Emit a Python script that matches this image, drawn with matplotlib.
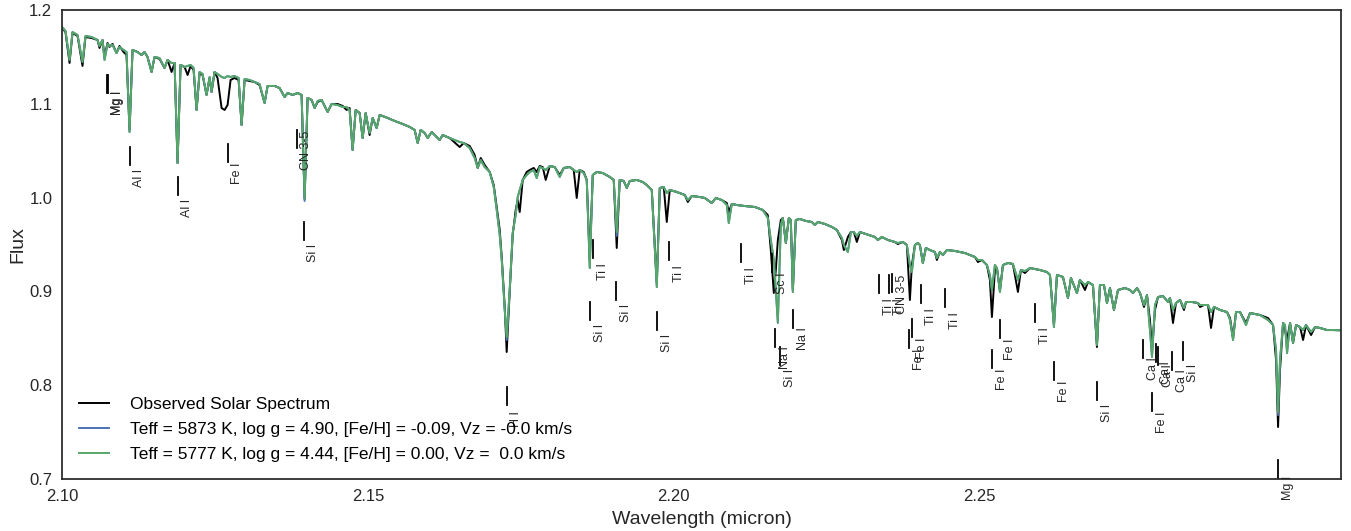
import numpy as np
import matplotlib
matplotlib.use("Agg")
import matplotlib.pyplot as plt
from matplotlib.ticker import FormatStrFormatter

plt.rcParams['font.family'] = ['Liberation Sans', 'DejaVu Sans']

# wavelength grid (micron)
wave = [
    2.10000, 2.10057, 2.10123, 2.10172, 2.10254, 2.10335, 2.10384, 2.10483, 2.10581, 2.10613,
    2.10662, 2.10695, 2.10744, 2.10777, 2.10826, 2.10891, 2.10940, 2.11006, 2.11055, 2.11104,
    2.11153, 2.11235, 2.11300, 2.11349, 2.11398, 2.11464, 2.11513, 2.11595, 2.11676, 2.11726,
    2.11791, 2.11840, 2.11889, 2.11938, 2.12004, 2.12053, 2.12102, 2.12151, 2.12200, 2.12249,
    2.12298, 2.12363, 2.12413, 2.12445, 2.12494, 2.12543, 2.12609, 2.12658, 2.12707, 2.12756,
    2.12821, 2.12887, 2.12936, 2.12985, 2.13067, 2.13149, 2.13230, 2.13312, 2.13361, 2.13476,
    2.13557, 2.13639, 2.13688, 2.13770, 2.13852, 2.13917, 2.13966, 2.14015, 2.14081, 2.14130,
    2.14179, 2.14244, 2.14343, 2.14408, 2.14506, 2.14588, 2.14653, 2.14702, 2.14751, 2.14801,
    2.14866, 2.14915, 2.14964, 2.15029, 2.15079, 2.15144, 2.15193, 2.15324, 2.15438, 2.15569,
    2.15684, 2.15765, 2.15815, 2.15864, 2.15929, 2.15978, 2.16044, 2.16125, 2.16174, 2.16223,
    2.16338, 2.16502, 2.16567, 2.16665, 2.16747, 2.16796, 2.16845, 2.16910, 2.16992, 2.17058,
    2.17107, 2.17156, 2.17189, 2.17238, 2.17270, 2.17319, 2.17368, 2.17417, 2.17450, 2.17483,
    2.17532, 2.17597, 2.17646, 2.17712, 2.17761, 2.17810, 2.17859, 2.17908, 2.17974, 2.18055,
    2.18137, 2.18203, 2.18301, 2.18366, 2.18415, 2.18464, 2.18530, 2.18579, 2.18628, 2.18677,
    2.18742, 2.18840, 2.18955, 2.19020, 2.19069, 2.19118, 2.19184, 2.19233, 2.19282, 2.19397,
    2.19495, 2.19560, 2.19642, 2.19724, 2.19773, 2.19838, 2.19887, 2.19936, 2.20051, 2.20182,
    2.20231, 2.20296, 2.20427, 2.20509, 2.20623, 2.20689, 2.20787, 2.20869, 2.20901, 2.20950,
    2.21032, 2.21163, 2.21327, 2.21457, 2.21539, 2.21588, 2.21637, 2.21670, 2.21703, 2.21752,
    2.21785, 2.21834, 2.21883, 2.21915, 2.21948, 2.21997, 2.22063, 2.22161, 2.22259, 2.22308,
    2.22357, 2.22471, 2.22586, 2.22668, 2.22750, 2.22782, 2.22848, 2.22897, 2.22946, 2.22995,
    2.23044, 2.23142, 2.23289, 2.23338, 2.23404, 2.23502, 2.23616, 2.23665, 2.23747, 2.23813,
    2.23862, 2.23894, 2.23944, 2.23993, 2.24025, 2.24074, 2.24123, 2.24189, 2.24271, 2.24303,
    2.24352, 2.24402, 2.24467, 2.24598, 2.24761, 2.24843, 2.24925, 2.24974, 2.25039, 2.25121,
    2.25170, 2.25203, 2.25252, 2.25285, 2.25334, 2.25383, 2.25465, 2.25546, 2.25628, 2.25677,
    2.25743, 2.25824, 2.25988, 2.26102, 2.26152, 2.26217, 2.26266, 2.26364, 2.26446, 2.26495,
    2.26593, 2.26642, 2.26724, 2.26773, 2.26855, 2.26920, 2.26969, 2.27035, 2.27084, 2.27133,
    2.27198, 2.27264, 2.27378, 2.27460, 2.27509, 2.27575, 2.27624, 2.27689, 2.27738, 2.27787,
    2.27820, 2.27869, 2.27918, 2.28000, 2.28082, 2.28114, 2.28163, 2.28212, 2.28278, 2.28343,
    2.28376, 2.28474, 2.28572, 2.28605, 2.28670, 2.28736, 2.28785, 2.28834, 2.28932, 2.29047,
    2.29096, 2.29145, 2.29194, 2.29259, 2.29357, 2.29423, 2.29586, 2.29717, 2.29799, 2.29848,
    2.29881, 2.29913, 2.29963, 2.29995, 2.30028, 2.30077, 2.30126, 2.30175, 2.30241, 2.30290,
    2.30339, 2.30421, 2.30486, 2.30568, 2.30682, 2.30780, 2.30950,
]

# observed solar spectrum
flux_obs = [
    1.1808, 1.1765, 1.1435, 1.1755, 1.1723, 1.1403, 1.1712, 1.1701, 1.1680, 1.1595,
    1.1680, 1.1499, 1.1648, 1.1606, 1.1638, 1.1542, 1.1616, 1.1552, 1.1520, 1.0721,
    1.1574, 1.1552, 1.1520, 1.1552, 1.1499, 1.1339, 1.1499, 1.1478, 1.1382, 1.1467,
    1.1339, 1.1435, 1.0369, 1.1414, 1.1392, 1.1307, 1.1403, 1.1360, 1.0934, 1.1328,
    1.1307, 1.1094, 1.1275, 1.1126, 1.1339, 1.1275, 1.0955, 1.0934, 1.0987, 1.1254,
    1.1275, 1.1254, 1.0774, 1.1254, 1.1243, 1.1232, 1.1200, 1.1009, 1.1190, 1.1190,
    1.1168, 1.1072, 1.1115, 1.1094, 1.1115, 1.1094, 0.9985, 1.1062, 1.1041, 1.0955,
    1.1019, 1.1041, 1.0913, 1.0998, 1.0998, 1.0977, 1.0934, 1.0955, 1.0507, 1.0934,
    1.0902, 1.0635, 1.0902, 1.0667, 1.0849, 1.0742, 1.0881, 1.0849, 1.0817, 1.0785,
    1.0753, 1.0721, 1.0582, 1.0721, 1.0689, 1.0635, 1.0699, 1.0646, 1.0614, 1.0667,
    1.0635, 1.0539, 1.0582, 1.0550, 1.0454, 1.0316, 1.0422, 1.0348, 1.0273, 1.0134,
    0.9900, 0.9655, 0.9367, 0.8834, 0.8354, 0.8994, 0.9601, 0.9868, 0.9974, 0.9846,
    1.0188, 1.0273, 1.0294, 1.0316, 1.0273, 1.0337, 1.0326, 1.0188, 1.0337, 1.0326,
    1.0241, 1.0316, 1.0326, 1.0294, 0.9996, 1.0294, 1.0273, 1.0188, 0.9335, 1.0241,
    1.0273, 1.0262, 1.0220, 1.0188, 0.9463, 1.0188, 1.0177, 1.0102, 1.0177, 1.0188,
    1.0166, 1.0134, 1.0081, 0.9090, 1.0102, 1.0113, 0.9740, 1.0081, 1.0060, 1.0028,
    0.9953, 1.0017, 1.0006, 0.9996, 0.9942, 0.9996, 0.9974, 0.9942, 0.9846, 0.9932,
    0.9921, 0.9910, 0.9900, 0.9868, 0.9814, 0.9441, 0.8983, 0.9228, 0.9548, 0.9761,
    0.9783, 0.9516, 0.9783, 0.9761, 0.9015, 0.9761, 0.9772, 0.9751, 0.9740, 0.9708,
    0.9740, 0.9719, 0.9687, 0.9655, 0.9548, 0.9441, 0.9580, 0.9633, 0.9633, 0.9527,
    0.9633, 0.9612, 0.9580, 0.9548, 0.9580, 0.9548, 0.9527, 0.9505, 0.9527, 0.9495,
    0.8908, 0.9281, 0.9495, 0.9516, 0.9495, 0.9303, 0.9463, 0.9441, 0.9420, 0.9335,
    0.9420, 0.9388, 0.9441, 0.9431, 0.9409, 0.9388, 0.9367, 0.9313, 0.9335, 0.9281,
    0.9122, 0.8727, 0.9228, 0.9249, 0.9015, 0.9281, 0.9303, 0.9292, 0.8994, 0.9228,
    0.9196, 0.9249, 0.9228, 0.9207, 0.9175, 0.8642, 0.9175, 0.9154, 0.8930, 0.9143,
    0.8983, 0.9122, 0.9015, 0.9100, 0.9068, 0.8407, 0.9068, 0.9068, 0.8876, 0.9036,
    0.8802, 0.9015, 0.9036, 0.9015, 0.8983, 0.9036, 0.8983, 0.8834, 0.8962, 0.8695,
    0.8375, 0.8802, 0.8940, 0.8951, 0.8887, 0.8930, 0.8663, 0.8876, 0.8908, 0.8802,
    0.8887, 0.8887, 0.8876, 0.8834, 0.8855, 0.8855, 0.8610, 0.8834, 0.8802, 0.8780,
    0.8716, 0.8503, 0.8780, 0.8780, 0.8663, 0.8770, 0.8748, 0.8716, 0.8642, 0.8269,
    0.7554, 0.8162, 0.8663, 0.8588, 0.8482, 0.8663, 0.8450, 0.8642, 0.8620, 0.8482,
    0.8642, 0.8535, 0.8620, 0.8610, 0.8588, 0.8588, 0.8585,
]

# model Teff = 5777 K (green)
flux_5777 = [
    1.1819, 1.1776, 1.1467, 1.1765, 1.1733, 1.1446, 1.1723, 1.1712, 1.1680, 1.1616,
    1.1680, 1.1467, 1.1638, 1.1616, 1.1627, 1.1542, 1.1606, 1.1574, 1.1552, 1.0699,
    1.1574, 1.1552, 1.1520, 1.1552, 1.1499, 1.1339, 1.1499, 1.1488, 1.1382, 1.1467,
    1.1435, 1.1435, 1.0369, 1.1414, 1.1392, 1.1403, 1.1414, 1.1382, 1.0934, 1.1339,
    1.1318, 1.1094, 1.1286, 1.1126, 1.1339, 1.1318, 1.1286, 1.1275, 1.1296, 1.1286,
    1.1296, 1.1275, 1.0774, 1.1264, 1.1254, 1.1232, 1.1211, 1.1009, 1.1190, 1.1190,
    1.1168, 1.1072, 1.1115, 1.1094, 1.1115, 1.1094, 0.9990, 1.1062, 1.1041, 1.0955,
    1.1030, 1.1041, 1.0913, 1.0998, 1.0987, 1.0966, 1.0966, 1.0934, 1.0507, 1.0934,
    1.0902, 1.0635, 1.0902, 1.0689, 1.0849, 1.0742, 1.0881, 1.0849, 1.0817, 1.0785,
    1.0753, 1.0721, 1.0582, 1.0721, 1.0689, 1.0635, 1.0699, 1.0646, 1.0614, 1.0667,
    1.0635, 1.0593, 1.0582, 1.0529, 1.0422, 1.0316, 1.0401, 1.0326, 1.0273, 1.0113,
    0.9868, 0.9601, 0.9335, 0.8802, 0.8514, 0.9015, 0.9623, 0.9814, 1.0006, 1.0081,
    1.0188, 1.0241, 1.0273, 1.0294, 1.0209, 1.0326, 1.0316, 1.0294, 1.0337, 1.0326,
    1.0220, 1.0316, 1.0326, 1.0294, 1.0273, 1.0294, 1.0262, 1.0188, 0.9249, 1.0241,
    1.0273, 1.0262, 1.0220, 1.0188, 0.9633, 1.0188, 1.0177, 1.0102, 1.0177, 1.0188,
    1.0166, 1.0134, 1.0081, 0.9047, 1.0102, 1.0113, 1.0049, 1.0081, 1.0060, 1.0028,
    0.9974, 1.0017, 1.0006, 0.9996, 0.9942, 0.9996, 0.9974, 0.9921, 0.9729, 0.9932,
    0.9921, 0.9910, 0.9900, 0.9868, 0.9783, 0.9548, 0.9335, 0.9015, 0.8674, 0.9708,
    0.9783, 0.9516, 0.9783, 0.9761, 0.8994, 0.9761, 0.9772, 0.9751, 0.9740, 0.9708,
    0.9740, 0.9719, 0.9687, 0.9655, 0.9569, 0.9495, 0.9420, 0.9633, 0.9633, 0.9591,
    0.9633, 0.9612, 0.9580, 0.9548, 0.9580, 0.9548, 0.9527, 0.9516, 0.9527, 0.9495,
    0.9281, 0.9207, 0.9495, 0.9516, 0.9495, 0.9303, 0.9463, 0.9441, 0.9420, 0.9356,
    0.9420, 0.9388, 0.9441, 0.9431, 0.9409, 0.9388, 0.9367, 0.9335, 0.9335, 0.9281,
    0.9175, 0.9015, 0.9281, 0.9249, 0.8994, 0.9281, 0.9303, 0.9292, 0.9122, 0.9228,
    0.9217, 0.9249, 0.9228, 0.9207, 0.9175, 0.8620, 0.9175, 0.9154, 0.8930, 0.9143,
    0.8983, 0.9122, 0.9068, 0.9100, 0.9068, 0.8429, 0.9068, 0.9068, 0.8876, 0.9036,
    0.8802, 0.9015, 0.9036, 0.9015, 0.8983, 0.9036, 0.8983, 0.8855, 0.8962, 0.8588,
    0.8301, 0.8855, 0.8940, 0.8951, 0.8887, 0.8930, 0.8802, 0.8876, 0.8908, 0.8823,
    0.8887, 0.8887, 0.8876, 0.8855, 0.8855, 0.8855, 0.8780, 0.8834, 0.8802, 0.8780,
    0.8695, 0.8482, 0.8780, 0.8780, 0.8642, 0.8770, 0.8748, 0.8695, 0.8642, 0.8375,
    0.7714, 0.8269, 0.8663, 0.8642, 0.8343, 0.8663, 0.8450, 0.8642, 0.8620, 0.8588,
    0.8642, 0.8567, 0.8620, 0.8610, 0.8588, 0.8588, 0.8585,
]

# model Teff = 5873 K (blue): same as the green model except at a few line cores
blue_cores_wave = [2.13966, 2.17270, 2.19069, 2.21703, 2.29881]
blue_cores_flux = [0.9964, 0.8482, 0.9591, 0.8663, 0.7682]

# line identifications: wavelength, name, bottom of the marker
line_wave = [2.10736, 2.10752, 2.11104, 2.11889, 2.12707, 2.13836, 2.13950, 2.17270,
             2.18628, 2.18677, 2.19053, 2.19724, 2.19920, 2.21098, 2.21605, 2.21654,
             2.21736, 2.21948, 2.23354, 2.23518, 2.23567, 2.23845, 2.23894, 2.24041,
             2.24434, 2.25203, 2.25334, 2.25906, 2.26217, 2.26920, 2.27673, 2.27820,
             2.27885, 2.27918, 2.28147, 2.28327, 2.29881]
line_name = ['Mg I', 'Mg I', 'Al I', 'Al I', 'Fe I', 'CN 3-5', 'Si I', 'H I',
             'Si I', 'Ti I', 'Si I', 'Si I', 'Ti I', 'Ti I', 'Sc I', 'Na I',
             'Si I', 'Na I', 'Ti I', 'Ti I', 'CN 3-5', 'Fe I', 'Fe I', 'Ti I',
             'Ti I', 'Fe I', 'Fe I', 'Ti I', 'Fe I', 'Si I', 'Ca I', 'Fe I',
             'Ca I', 'Ca I', 'Ca I', 'Si I', 'Mg I']
line_level = [1.1115, 1.1115, 1.0348, 1.0028, 1.0380, 1.0529, 0.9548, 0.7789,
              0.8695, 0.9356, 0.8908, 0.8588, 0.9335, 0.9313, 0.9207, 0.8407,
              0.8215, 0.8610, 0.8983, 0.8983, 0.8994, 0.8397, 0.8514, 0.8876,
              0.8834, 0.8183, 0.8503, 0.8674, 0.8055, 0.7842, 0.8290, 0.7725,
              0.8247, 0.8215, 0.8162, 0.8269, 0.7011]

labels = ['Observed Solar Spectrum',
          'Teff = 5873 K, log g = 4.90, [Fe/H] = -0.09, Vz = -0.0 km/s',
          'Teff = 5777 K, log g = 4.44, [Fe/H] = 0.00, Vz =  0.0 km/s']

xticks = [2.10, 2.15, 2.20, 2.25]
yticks = [0.7, 0.8, 0.9, 1.0, 1.1, 1.2]

wave = np.array(wave)
flux_5873 = np.array(flux_5777, dtype=float)
for w, f in zip(blue_cores_wave, blue_cores_flux):
    flux_5873[np.isclose(wave, w)] = f

fig, ax = plt.subplots(figsize=(13.51, 5.31), dpi=100)
fig.subplots_adjust(left=0.0459, right=0.9926, top=0.9812, bottom=0.0979)

ax.plot(wave, flux_obs, color='black', lw=1.4, label=labels[0])
ax.plot(wave, flux_5873, color='#4C72B0', lw=1.4, label=labels[1])
ax.plot(wave, flux_5777, color='#55A868', lw=1.4, label=labels[2])

# line markers and rotated names
for w, name, y in zip(line_wave, line_name, line_level):
    ax.plot([w, w], [y, y + 0.019], color='black', lw=1.3, clip_on=False)
    ax.text(w + 0.0016, y - 0.0235, name, rotation=90, ha='center', va='bottom',
            fontsize=9, color='#262626', clip_on=False)

ax.set_xlim(2.10, 2.3091)
ax.set_ylim(0.7, 1.2)
ax.set_xticks(xticks)
ax.set_yticks(yticks)
ax.xaxis.set_major_formatter(FormatStrFormatter('%.2f'))
ax.yaxis.set_major_formatter(FormatStrFormatter('%.1f'))
ax.tick_params(length=0, labelsize=12, pad=7, labelcolor='#262626')
ax.set_xlabel('Wavelength (micron)', fontsize=14, color='#262626', labelpad=5)
ax.set_ylabel('Flux', fontsize=14, color='#262626', labelpad=2)
for s in ax.spines.values():
    s.set_color('#262626')
    s.set_linewidth(1.25)

ax.legend(loc='lower left', frameon=False, fontsize=12.5, handlelength=1.7,
          handletextpad=1.2, borderaxespad=0.6, labelspacing=0.55)

fig.savefig('out.png', dpi=100)
